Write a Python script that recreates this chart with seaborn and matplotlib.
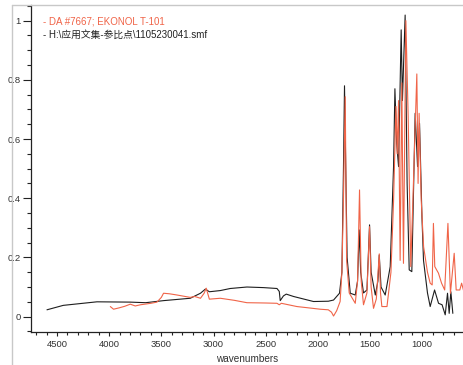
import numpy as np
import pandas as pd
import matplotlib
matplotlib.use("Agg")
import matplotlib.pyplot as plt
from matplotlib.lines import Line2D
from matplotlib.ticker import MultipleLocator, FormatStrFormatter
from matplotlib import font_manager
import seaborn as sns

# ---- data ----
ref_wn = [4596, 4440, 4117, 3798, 3650, 3479, 3223, 3125, 3078, 3040, 2935, 2840, 2680,
          2521, 2392, 2370, 2361, 2330, 2303, 2233, 2042, 1900, 1850, 1793, 1770, 1755,
          1745, 1735, 1720, 1690, 1642, 1620, 1604, 1590, 1563, 1530, 1505, 1490, 1450,
          1425, 1412, 1395, 1355, 1307, 1275, 1262, 1245, 1227, 1202, 1190, 1164, 1145,
          1125, 1100, 1068, 1045, 1026, 1003, 988, 950, 924, 882, 844, 810, 780, 758,
          742, 726, 707]
ref_abs = [0.023, 0.038, 0.050, 0.049, 0.047, 0.054, 0.062, 0.079, 0.093, 0.084, 0.088,
           0.095, 0.100, 0.098, 0.095, 0.085, 0.054, 0.070, 0.076, 0.068, 0.051, 0.052,
           0.056, 0.079, 0.15, 0.50, 0.78, 0.55, 0.20, 0.079, 0.073, 0.12, 0.293, 0.15,
           0.08, 0.09, 0.31, 0.15, 0.073, 0.12, 0.208, 0.10, 0.073, 0.169, 0.507, 0.77,
           0.586, 0.507, 0.969, 0.73, 1.019, 0.45, 0.158, 0.152, 0.687, 0.507, 0.653,
           0.338, 0.19, 0.08, 0.034, 0.09, 0.045, 0.04, 0.006, 0.079, 0.011, 0.084, 0.011]

sam_wn = [3989, 3958, 3900, 3850, 3798, 3750, 3700, 3600, 3542, 3500, 3479, 3420, 3350,
          3223, 3180, 3125, 3090, 3070, 3040, 2935, 2800, 2680, 2500, 2392, 2370, 2350,
          2201, 2100, 1978, 1900, 1870, 1850, 1820, 1787, 1770, 1755, 1738, 1725, 1700,
          1642, 1620, 1601, 1585, 1563, 1530, 1505, 1490, 1467, 1440, 1412, 1400, 1387,
          1338, 1300, 1275, 1252, 1240, 1227, 1212, 1196, 1180, 1157, 1135, 1110, 1090,
          1052, 1040, 1030, 1010, 987, 950, 924, 905, 893, 880, 845, 815, 785, 754, 730,
          694, 675, 640, 623, 601]
sam_abs = [0.034, 0.025, 0.030, 0.035, 0.042, 0.036, 0.040, 0.045, 0.049, 0.065, 0.079,
           0.077, 0.073, 0.065, 0.068, 0.062, 0.079, 0.096, 0.059, 0.062, 0.055, 0.047,
           0.046, 0.045, 0.040, 0.045, 0.034, 0.030, 0.025, 0.023, 0.015, 0.002, 0.020,
           0.051, 0.15, 0.40, 0.743, 0.19, 0.08, 0.045, 0.12, 0.428, 0.12, 0.04, 0.08,
           0.304, 0.10, 0.028, 0.06, 0.212, 0.08, 0.034, 0.034, 0.15, 0.39, 0.71, 0.55,
           0.73, 0.19, 0.79, 0.18, 1.0, 0.676, 0.169, 0.39, 0.82, 0.45, 0.687, 0.394,
           0.236, 0.15, 0.113, 0.107, 0.315, 0.169, 0.147, 0.113, 0.09, 0.315, 0.079,
           0.214, 0.09, 0.09, 0.113, 0.084]

legend_labels = ["- DA #7667; EKONOL T-101", "- H:\\应用文集-参比点\\1105230041.smf"]
x_label = "wavenumbers"
x_ticks = [4500, 4000, 3500, 3000, 2500, 2000, 1500, 1000]
y_ticks = [0, 0.2, 0.4, 0.6, 0.8, 1]

# ---- style ----
sns.set_style("ticks")


def _has(name):
    try:
        font_manager.findfont(font_manager.FontProperties(family=name),
                              fallback_to_default=False)
        return True
    except Exception:
        return False


NARROW = _has("Liberation Sans Narrow")
FONT = (["Liberation Sans Narrow"] if NARROW else []) + \
    ["Liberation Sans", "Noto Sans CJK SC", "DejaVu Sans"]
plt.rcParams["font.family"] = FONT
TICK_FS = 8 if NARROW else 6.8
LEG_FS = 8.5 if NARROW else 7
LAB_FS = 8.5 if NARROW else 7.2

W, H = 464, 365
fig = plt.figure(figsize=(W / 100, H / 100), dpi=100)
ax = fig.add_axes([31 / W, 1 - 332 / H, (W - 31) / W, (332 - 5) / H])

RED = "#f06448"
BLK = "#1e1e1e"
df_ref = pd.DataFrame({"wn": ref_wn, "a": ref_abs})
df_sam = pd.DataFrame({"wn": sam_wn, "a": sam_abs})
sns.lineplot(data=df_ref, x="wn", y="a", ax=ax, color=BLK, lw=0.8, estimator=None)
sns.lineplot(data=df_sam, x="wn", y="a", ax=ax, color=RED, lw=0.8, estimator=None)

ax.set_xlim(4749, 600)
ax.set_ylim(-0.052, 1.053)
ax.set_xticks(x_ticks)
ax.xaxis.set_minor_locator(MultipleLocator(100))
ax.set_yticks(y_ticks)
ax.yaxis.set_minor_locator(MultipleLocator(0.05))
ax.yaxis.set_major_formatter(FormatStrFormatter("%g"))
ax.tick_params(axis="both", which="both", labelsize=TICK_FS, colors="#222222",
               labelcolor="#333333", width=0.8)
ax.tick_params(axis="y", which="major", length=5.5, pad=2)
ax.tick_params(axis="y", which="minor", length=3)
ax.tick_params(axis="x", which="major", length=3, pad=3)
ax.tick_params(axis="x", which="minor", length=2)
ax.set_xlabel(x_label, fontsize=LAB_FS, color="#333333", labelpad=3)
ax.set_ylabel("")
for s in ["top", "right"]:
    ax.spines[s].set_visible(False)
for s in ["left", "bottom"]:
    ax.spines[s].set_color("#222222")
    ax.spines[s].set_linewidth(0.9)

# gray outer frame
fx = 12 / W
fy = 1 - 5 / H
fig.add_artist(Line2D([fx, fx], [0, fy], transform=fig.transFigure, color="#c8c8c8", lw=1))
fig.add_artist(Line2D([fx, 1], [fy, fy], transform=fig.transFigure, color="#c8c8c8", lw=1))

# legend entries as text
fig.text(43 / W, 1 - 21 / H, legend_labels[0], color=RED, fontsize=LEG_FS, va="center", ha="left")
fig.text(43 / W, 1 - 35 / H, legend_labels[1], color="#222222", fontsize=LEG_FS, va="center", ha="left")

fig.savefig("out.png", dpi=100)
